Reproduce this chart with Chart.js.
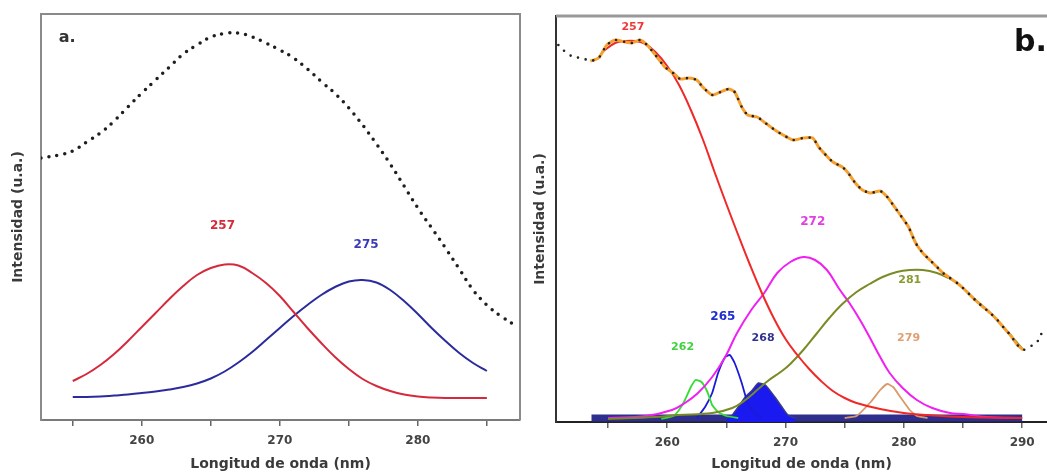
<!DOCTYPE html>
<html>
<head>
<meta charset="utf-8">
<script src="https://cdn.jsdelivr.net/npm/chart.js@4.4.0/dist/chart.umd.min.js"></script>
<style>
body{margin:0;background:#fff;width:1047px;height:476px;overflow:hidden;position:relative}
canvas{position:absolute;top:0}
#chartA{left:0}
#chartB{left:522px}
</style>
</head>
<body>
<canvas id="chartA" width="522" height="476"></canvas>
<canvas id="chartB" width="525" height="476"></canvas>
<script>
// ---- panel a ----
const aDotX = [252.7,254,255,256,257,258,259,260,261,262,263,264,265,266,267,268,269,270,271,272,273,274,275,276,277,278,279,280,281,282,283,284,285,286,287];
const aDotY = [262,265,269,278,287,299,313,327,340,353,366,375,383,386.5,387,383,377,370,362,351,338.5,326.5,312,295,276,256,234,212,192,172,151,130,115,104,95];
const aFitX = [255,256,257,258,259,260,261,262,263,264,265,266,267,268,269,270,271,272,273,274,275,276,277,278,279,280,281,282,283,284,285];
const aRed  = [39,46,55,66,79,93,107,121,134,145,152,155.5,154.5,147,137,124,108,92,77,63,51,41,34,29,25.5,23.5,22.5,22,22,22,22];
const aBlue = [23,23,23.5,24.5,25.5,27,28.5,30.5,33,36.5,41.5,48.5,57.5,68,80,92,104,115,125,133,138.5,140,137.5,130,119,106,92,79,67,57,49];

const aLabels = ['257','275','a.'];
const aLabelX = [265.85,276.25,254.6];
const aLabelY = [194,175,382];

// ---- panel b ----
const bExpX = [250.8,251.4,252.05,252.8,253.5,254.2,254.9,255.6,256.45,257.0,257.7,258.3,259.0,259.8,260.5,261.1,261.8,262.5,263.0,263.8,264.5,265.2,265.7,266.3,266.8,267.6,268.3,269.1,269.8,270.65,271.5,272.3,272.8,273.4,274.0,274.8,275.3,275.9,276.5,277.2,278.0,278.6,279.1,279.7,280.4,280.8,281.1,281.6,282.2,282.8,283.3,283.9,284.5,285.0,285.6,286.2,286.7,287.3,287.9,288.4,289.0,289.6,290.1,290.9,291.4,291.8];
const bExpY = [377,370,365,364,361,364,377,382,380,379,382,377,367,355,349,343,344,342,335,327,330,333,330,315,307,305,299,292,287,282,284,284,275,267,260,255,249,239,232,229,231,225,217,207,195,184,177,169,162,155,149,144,139,134,127,120,115,109,102,95,87,77,72,77,82,94];

const bRedX = [254.5,255.6,256.5,257.3,258,259,260,261,262,263,264,265,266,267,268,269,270,271,272,273,274,275,276,278,280,282,285,290];
const bRedY = [370,379,381,381,379,370,356,337,312,283,250,218,187,157,129,104,83,67,53,41,31,24,19,13,9,7,5,4];

const bMagX = [255,258.2,260.4,261.5,262.6,263.8,264.9,265.9,267.1,268.2,269.3,270.4,271.5,272.5,273.5,274.6,275.4,276.3,277.1,278.0,278.8,279.9,281.1,282.4,283.9,285.0,287,290];
const bMagY = [4,6,12,19,29,45,65,89,112,129,149,160,165,162,152,132,119,102,85,65,49,34,22,14,9,8,5,4];

const bOliveX = [255,259,260.9,263.8,265.5,266.6,267.7,268.5,269.7,270.4,271.5,272.6,273.7,274.8,276.0,277.1,278.2,279.4,280.5,281.6,282.8,283.6,284.5,285.6,287.3,289.0,290.1];
const bOliveY = [3,5,7,9,14,22,33,41,51,58,72,88,104,118,130,138,145,150,152,152,149,145,139,127,109,87,72];

const bGreenX = [259.5,260.5,261.0,261.5,262.0,262.4,262.9,263.4,263.8,264.3,265,266];
const bGreenY = [3,6,12,22,35,42,40,30,17,10,6,4];

const bBlueX = [262.5,263.2,263.8,264.3,264.9,265.3,265.7,266.3,266.8,267.4,268];
const bBlueY = [4,15,29,49,65,67,59,39,19,9,4];

const bFillX = [265,265.5,266.0,266.6,267.2,267.7,268.3,269.1,269.7,270.2,270.8];
const bFillY = [4,7,15,25,32,39,37,25,15,7,4];

const bTanX = [275,276.0,277.2,278.0,278.6,279.1,279.7,280.5,281.1,282];
const bTanY = [4,6,20,32,38,35,25,12,6,4];

const bBaseX = [253.6,290];
const bBaseY = [4,4];

const bLabels = ['257','272','281','265','268','262','279','b.'];
const bLabelX = [257.1,272.3,280.5,264.7,268.1,261.3,280.4,290.7];
const bLabelY = [395,200,142,105,84,75,84,379];

// ---- helpers ----
const FONT = 'DejaVu Sans';
function pts(xs, ys) { return xs.map((x, i) => ({x: x, y: ys[i]})); }

function labelPlugin(texts, xs, ys, styles) {
  return {
    id: 'peakLabels',
    afterDatasetsDraw(chart) {
      const ctx = chart.ctx, sx = chart.scales.x, sy = chart.scales.y;
      ctx.save();
      ctx.textAlign = 'center';
      ctx.textBaseline = 'middle';
      texts.forEach((t, i) => {
        ctx.fillStyle = styles[i][0];
        ctx.font = 'bold ' + styles[i][1] + 'px "' + FONT + '"';
        ctx.fillText(t, sx.getPixelForValue(xs[i]), sy.getPixelForValue(ys[i]));
      });
      ctx.restore();
    }
  };
}

function framePlugin(color, width, right) {
  return {
    id: 'frame',
    afterDraw(chart) {
      const {ctx, chartArea: a} = chart;
      ctx.save();
      ctx.strokeStyle = color;
      ctx.lineWidth = width;
      ctx.beginPath();
      ctx.moveTo(a.left, a.top);
      ctx.lineTo(a.right, a.top);
      if (right) ctx.lineTo(a.right, a.bottom);
      ctx.stroke();
      ctx.restore();
    }
  };
}

function xAxis(min, max, h, borderColor) {
  return {
    type: 'linear', min: min, max: max,
    afterFit: s => { s.height = h; },
    ticks: {
      stepSize: 5, includeBounds: false, autoSkip: false, maxRotation: 0, padding: 8,
      color: '#444', font: {family: FONT, size: 12, weight: 'bold'},
      callback: v => Math.abs(v % 10) < 0.01 ? v : ''
    },
    grid: {drawOnChartArea: false, tickLength: 6, color: '#666', lineWidth: 1.5},
    border: {color: borderColor, width: 2},
    title: {display: true, text: 'Longitud de onda (nm)', color: '#3a3a3a',
      font: {family: FONT, size: 14, weight: 'bold'}, padding: {top: 0, bottom: 3}}
  };
}

function yAxis(w, borderColor) {
  return {
    min: 0, max: 406,
    afterFit: s => { s.width = w; },
    ticks: {display: false},
    grid: {display: false},
    border: {color: borderColor, width: 2},
    title: {display: true, text: 'Intensidad (u.a.)', color: '#3a3a3a',
      font: {family: FONT, size: 14, weight: 'bold'}, padding: {top: 10, bottom: 0}}
  };
}

const common = {
  responsive: false,
  animation: false,
  plugins: {legend: {display: false}, tooltip: {enabled: false}},
  elements: {point: {radius: 0}}
};

// ---- chart a ----
new Chart(document.getElementById('chartA'), {
  type: 'line',
  data: {
    datasets: [
      {data: pts(aDotX, aDotY), borderColor: '#1e1e1e', borderWidth: 3.5, borderDash: [0, 8], borderCapStyle: 'round', tension: 0.4, order: 0},
      {data: pts(aFitX, aRed), borderColor: '#d42a3c', borderWidth: 2, tension: 0.4, order: 1},
      {data: pts(aFitX, aBlue), borderColor: '#2b2b9e', borderWidth: 2, tension: 0.4, order: 2}
    ]
  },
  options: Object.assign({}, common, {
    layout: {padding: {top: 14, right: 2, left: 0, bottom: 0}},
    scales: {x: xAxis(252.7, 287.4, 56, '#7a7a7a'), y: yAxis(41, '#8a8a8a')}
  }),
  plugins: [
    framePlugin('#8a8a8a', 2, true),
    labelPlugin(aLabels, aLabelX, aLabelY, [['#d42a3c', 12], ['#3b3bb8', 12], ['#333', 16]])
  ]
});

// ---- chart b ----
new Chart(document.getElementById('chartB'), {
  type: 'line',
  data: {
    datasets: [
      {data: pts(bExpX, bExpY), borderColor: '#222', borderWidth: 2.6, borderDash: [0, 8], borderCapStyle: 'round', tension: 0.2, order: 0},
      {data: pts(bExpX.slice(4, 63), bExpY.slice(4, 63)), borderColor: '#f7a030', borderWidth: 3, tension: 0.2, order: 1},
      {data: pts(bRedX, bRedY), borderColor: '#f02828', borderWidth: 2, tension: 0.4, order: 2},
      {data: pts(bOliveX, bOliveY), borderColor: '#7a8a25', borderWidth: 2, tension: 0.4, order: 3},
      {data: pts(bMagX, bMagY), borderColor: '#f020f0', borderWidth: 2, tension: 0.4, order: 4},
      {data: pts(bGreenX, bGreenY), borderColor: '#33dd33', borderWidth: 1.8, tension: 0.15, order: 5},
      {data: pts(bBlueX, bBlueY), borderColor: '#1a1ad8', borderWidth: 1.8, tension: 0.15, order: 6},
      {data: pts(bTanX, bTanY), borderColor: '#d99a6a', borderWidth: 1.8, tension: 0.15, order: 7},
      {data: pts(bFillX, bFillY), borderColor: '#3a3a8a', backgroundColor: '#1a1af0', fill: 'origin', borderWidth: 1.5, tension: 0.15, order: 8},
      {data: pts(bBaseX, bBaseY), borderColor: '#2e2e8e', borderWidth: 7, tension: 0, order: 9}
    ]
  },
  options: Object.assign({}, common, {
    layout: {padding: {top: 16, right: 0, left: 0, bottom: 0}},
    scales: {x: xAxis(250.6, 292.1, 54, '#222'), y: yAxis(34, '#333')}
  }),
  plugins: [
    framePlugin('#999', 3, false),
    labelPlugin(bLabels, bLabelX, bLabelY, [
      ['#f03a3a', 11], ['#e040e0', 12], ['#8a9a30', 11], ['#2030d0', 12],
      ['#303090', 11], ['#40d040', 11], ['#e0a070', 11], ['#111', 30]
    ])
  ]
});
</script>
</body>
</html>
